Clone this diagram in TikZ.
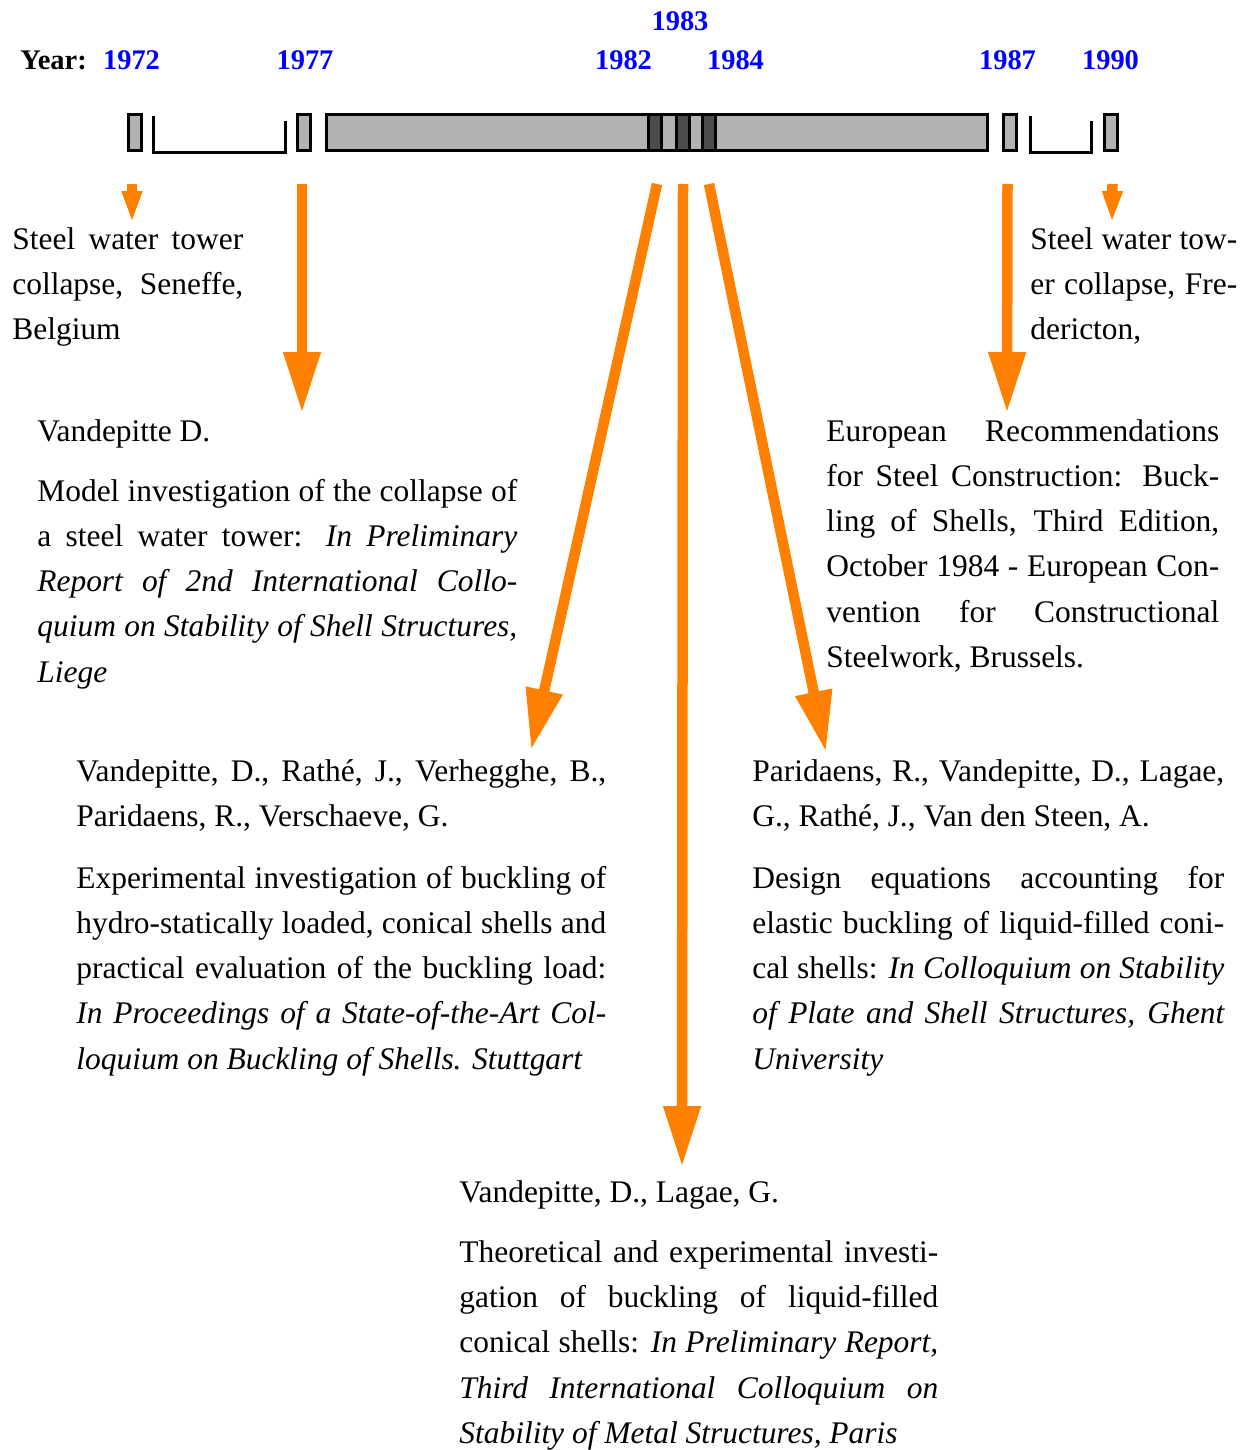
\documentclass[tikz,border=0pt]{standalone}
\usepackage{fontspec}
\setmainfont{Liberation Serif}
\usetikzlibrary{arrows.meta}
\definecolor{arroworange}{RGB}{255,128,0}
\hyphenpenalty=10000
\exhyphenpenalty=10000
\tolerance=10000
\newcommand{\tightspaces}{\spaceskip=0.25em plus 0.5em minus 0.12em\relax}
\begin{document}
\begin{tikzpicture}[x=0.02cm,y=-0.02cm,
    yearbox/.style={draw,line width=0.06cm,fill=black!30,minimum width=0.26cm,minimum height=0.72cm,inner sep=0},
    darkbox/.style={yearbox,fill=black!70},
    yearlabel/.style={font=\fontsize{16.2pt}{19pt}\selectfont\bfseries,text=blue,anchor=base,inner sep=0},
    reftext/.style={font=\fontsize{17.9pt}{25.8pt}\selectfont,execute at begin node=\tightspaces,
      align=justify,anchor=base west,inner sep=0},
    bigarrow/.style={arroworange,line width=0.21cm,-{Triangle[width=0.7cm,length=1.22cm]}},
    smallarrow/.style={arroworange,line width=0.21cm,-{Triangle[width=0.37cm,length=0.64cm]}}]
  \useasboundingbox (0,0) rectangle (1250,1450);

  % years
  \node[yearlabel,text=black,anchor=base west] (yr) at (20,69) {Year:};
  \node[yearlabel] (l72) at (131.5,69) {1972};
  \node[yearlabel] (l77) at (305,69) {1977};
  \node[yearlabel] (l82) at (623.5,69) {1982};
  \node[yearlabel] (l83) at (680,31) {1983};
  \node[yearlabel] (l84) at (735.5,69) {1984};
  \node[yearlabel] (l87) at (1007.5,69) {1987};
  \node[yearlabel] (l90) at (1110.5,69) {1990};

  % time line
  \node[yearbox] (b72) at (135,132.5) {};
  \node[yearbox] (b77) at (304,132.5) {};
  \node[yearbox,minimum width=13.22cm] (bar) at (657,132.5) {};
  \node[darkbox] (d82) at (655,132.5) {};
  \node[darkbox] (d83) at (683,132.5) {};
  \node[darkbox] (d84) at (709,132.5) {};
  \node[yearbox] (b87) at (1009.5,132.5) {};
  \node[yearbox] (b90) at (1110.5,132.5) {};
  \draw[line width=0.06cm] (153,116) -- (153,152.5) -- (285,152.5) -- (285,121);
  \draw[line width=0.06cm] (1030.5,116) -- (1030.5,152.5) -- (1091.5,152.5) -- (1091.5,121);

  % references
  \node[reftext,text width=4.62cm] (seneffe) at (12,249)
    {Steel water tower\linebreak collapse, Seneffe,\linebreak Belgium};
  \node[reftext,text width=4.14cm] (fredericton) at (1030,249)
    {Steel water tow-\linebreak er collapse, Fre-\linebreak dericton,};

  \node[reftext,text width=9.6cm] (auth77) at (37,441) {Vandepitte D.};
  \node[reftext,text width=9.6cm] (ref77) at (37,501)
    {Model investigation of the collapse of\linebreak a steel water tower: \textit{In Preliminary\linebreak
     Report of 2nd International Collo-\linebreak quium on Stability of Shell Structures,\linebreak Liege}};

  \node[reftext,text width=7.86cm] (ref87) at (826,441)
    {European Recommendations\linebreak for Steel Construction: Buck-\linebreak ling of Shells, Third Edition,\linebreak
     October 1984 - European Con-\linebreak vention for Constructional\linebreak Steelwork, Brussels.};

  \node[reftext,text width=10.6cm] (auth82) at (76,781)
    {Vandepitte, D., Rathé, J., Verhegghe, B.,\linebreak Paridaens, R., Verschaeve, G.};
  \node[reftext,text width=10.6cm] (ref82) at (76,888)
    {Experimental investigation of buckling of\linebreak hydro-statically loaded, conical shells and\linebreak
     practical evaluation of the buckling load:\linebreak \textit{In Proceedings of a State-of-the-Art Col-\linebreak
     loquium on Buckling of Shells. Stuttgart}};

  \node[reftext,text width=9.44cm] (auth84) at (752,781)
    {Paridaens, R., Vandepitte, D., Lagae,\linebreak G., Rathé, J., Van den Steen, A.};
  \node[reftext,text width=9.44cm] (ref84) at (752,888)
    {Design equations accounting for\linebreak elastic buckling of liquid-filled coni-\linebreak
     cal shells: \textit{In Colloquium on Stability\linebreak of Plate and Shell Structures, Ghent\linebreak University}};

  \node[reftext,text width=9.58cm] (auth83) at (459,1202) {Vandepitte, D., Lagae, G.};
  \node[reftext,text width=9.58cm] (ref83) at (459,1262)
    {Theoretical and experimental investi-\linebreak gation of buckling of liquid-filled\linebreak
     conical shells: \textit{In Preliminary Report,\linebreak Third International Colloquium on\linebreak
     Stability of Metal Structures, Paris}};

  % arrows
  \coordinate (t72) at (132,223);
  \coordinate (t77) at (302,413);
  \coordinate (t82) at (531,750);
  \coordinate (t83) at (682,1167);
  \coordinate (t84) at (826,752);
  \coordinate (t87) at (1007,413);
  \coordinate (t90) at (1112,223);
  \draw[smallarrow] (b72.south) ++(-3,32) -- (t72);
  \draw[bigarrow] (b77.south) ++(-2,32) -- (t77);
  \draw[bigarrow] (d82.south) ++(2,32) -- (t82);
  \draw[bigarrow] (d83.south) ++(0,32) -- (t83);
  \draw[bigarrow] (d84.south) ++(0,32) -- (t84);
  \draw[bigarrow] (b87.south) ++(-2,32) -- (t87);
  \draw[smallarrow] (b90.south) ++(2,32) -- (t90);
\end{tikzpicture}
\end{document}
